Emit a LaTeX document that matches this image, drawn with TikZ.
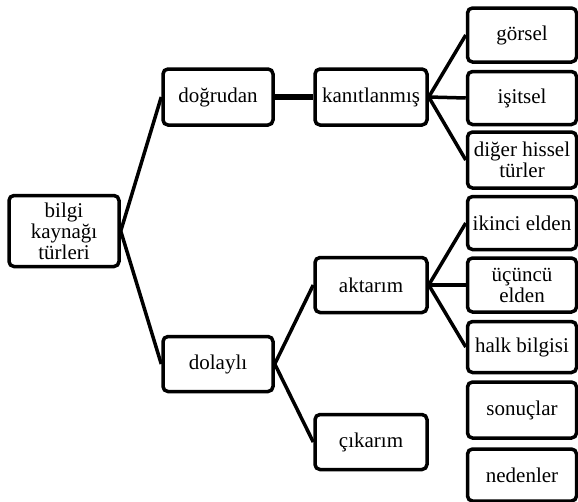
\documentclass[tikz,border=0pt]{standalone}
\usepackage{fontspec}
\setmainfont{Liberation Serif}
\begin{document}
\begin{tikzpicture}[x=1pt,y=-1pt,
  box/.style={draw=black,line width=3.5pt,rounded corners=5pt,fill=white,align=center,
    font=\rmfamily\fontsize{21}{21}\selectfont,inner sep=0pt},
  link/.style={line width=3.5pt},
  thick link/.style={line width=6pt}]
\useasboundingbox (0,0) rectangle (578,501);
% connectors (drawn first, boxes cover their ends)
\coordinate (rootE) at (119,231);
\coordinate (dogW) at (164,97);
\coordinate (dolW) at (164,364);
\coordinate (kanE) at (426,97);
\coordinate (aktE) at (426,285);
% root
\node[box,minimum width=110pt,minimum height=71pt] (root) at (64,231) {bilgi\\kaynağı\\türleri};
% second level
\node[box,minimum width=110pt,minimum height=56pt] (dog) at (218,97) {doğrudan};
\node[box,minimum width=110pt,minimum height=55pt] (dol) at (218,364) {dolaylı};
% third level
\node[box,minimum width=112pt,minimum height=56pt] (kan) at (371,97) {kanıtlanmış};
\node[box,minimum width=112pt,minimum height=55pt] (akt) at (371,285) {aktarım};
\node[box,minimum width=112pt,minimum height=55pt] (cik) at (371,442) {çıkarım};
% fourth level
\node[box,minimum width=109pt,minimum height=54pt] (gor) at (522,35) {görsel};
\node[box,minimum width=109pt,minimum height=53pt] (isi) at (522,98) {işitsel};
\node[box,minimum width=109pt,minimum height=56pt] (dig) at (522,160) {diğer hissel\\türler};
\node[box,minimum width=109pt,minimum height=53pt] (iki) at (522,223) {ikinci elden};
\node[box,minimum width=109pt,minimum height=54pt] (ucu) at (522,285) {üçüncü\\elden};
\node[box,minimum width=109pt,minimum height=51pt] (hal) at (522,347) {halk bilgisi};
\node[box,minimum width=109pt,minimum height=56pt] (son) at (522,410) {sonuçlar};
\node[box,minimum width=109pt,minimum height=52pt] (ned) at (522,475) {nedenler};
% connectors
\draw[link] (root.east) -- (dog.west);
\draw[link] (root.east) -- (dol.west);
\draw[thick link] (dog.east) -- (kan.west);
\draw[link] (kan.east) -- (gor.west);
\draw[link] (kan.east) -- (isi.west);
\draw[link] (kan.east) -- (dig.west);
\draw[link] (dol.east) -- (akt.west);
\draw[link] (dol.east) -- (cik.west);
\draw[link] (akt.east) -- (iki.west);
\draw[link] (akt.east) -- (ucu.west);
\draw[link] (akt.east) -- (hal.west);
\end{tikzpicture}
\end{document}
